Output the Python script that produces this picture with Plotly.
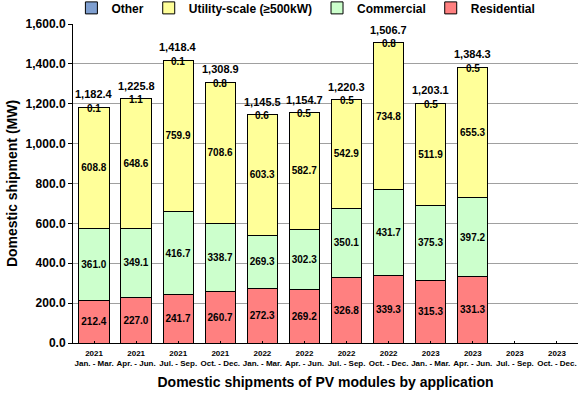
import plotly.graph_objects as go

years = ["2021", "2021", "2021", "2021", "2022", "2022", "2022", "2022", "2023", "2023", "2023", "2023"]
periods = ["Jan. - Mar.", "Apr. - Jun.", "Jul. - Sep.", "Oct. - Dec.",
           "Jan. - Mar.", "Apr. - Jun.", "Jul. - Sep.", "Oct. - Dec.",
           "Jan. - Mar.", "Apr. - Jun.", "Jul. - Sep.", "Oct. - Dec."]
residential = [212.4, 227.0, 241.7, 260.7, 272.3, 269.2, 326.8, 339.3, 315.3, 331.3, None, None]
commercial = [361.0, 349.1, 416.7, 338.7, 269.3, 302.3, 350.1, 431.7, 375.3, 397.2, None, None]
utility = [608.8, 648.6, 759.9, 708.6, 603.3, 582.7, 542.9, 734.8, 511.9, 655.3, None, None]
other = [0.1, 1.1, 0.1, 0.8, 0.6, 0.5, 0.5, 0.8, 0.5, 0.5, None, None]
totals = [1182.4, 1225.8, 1418.4, 1308.9, 1145.5, 1154.7, 1220.3, 1506.7, 1203.1, 1384.3, None, None]

cats = [f"{y}<br>{p}" for y, p in zip(years, periods)]
FONT = "Liberation Sans, Arial, sans-serif"

fig = go.Figure()

def seg(name, vals, color, show_text=True):
    fig.add_trace(go.Bar(
        x=cats, y=vals, name=name,
        marker=dict(color=color, line=dict(color="black", width=1)),
        text=[f"{v:,.1f}" if v is not None else "" for v in vals] if show_text else None,
        textposition="inside" if show_text else "none",
        insidetextanchor="middle",
        constraintext="none",
        textangle=0,
        insidetextfont=dict(family=FONT, size=10, color="black", weight="bold"),
    ))

seg("Residential", residential, "#FF8080")
seg("Commercial", commercial, "#CCFFCC")
seg("Utility-scale (≥500kW)", utility, "#FFFF99")
seg("Other", other, "#7F9FD0", show_text=False)

for c, t, o in zip(cats, totals, other):
    if t is None:
        continue
    fig.add_annotation(x=c, y=t, text=f"{t:,.1f}", showarrow=False, yanchor="bottom", yshift=5,
                       font=dict(family=FONT, size=11, color="black", weight="bold"))
    fig.add_annotation(x=c, y=t, text=f"{o:,.1f}", showarrow=False, yanchor="middle", yshift=-1,
                       font=dict(family=FONT, size=10, color="black", weight="bold"))

fig.update_layout(
    width=586, height=398,
    barmode="stack", bargap=0.28,
    plot_bgcolor="white", paper_bgcolor="white",
    margin=dict(l=73, r=8, t=24, b=55, autoexpand=False),
    font=dict(family=FONT, color="black"),
    legend=dict(orientation="h", traceorder="reversed", xref="container", x=0.522, xanchor="center",
                yref="paper", y=1.096, yanchor="top",
                font=dict(family=FONT, size=12, weight="bold"), itemwidth=30,
                tracegroupgap=0, bgcolor="rgba(0,0,0,0)"),
    showlegend=True,
)
fig.update_yaxes(range=[0, 1600], dtick=200, tickformat=",.1f", showgrid=True, gridcolor="#a0a0a0", gridwidth=1,
                 showline=True, linecolor="black", linewidth=1, ticks="outside", ticklen=4, tickcolor="black",
                 tickfont=dict(family=FONT, size=12, weight="bold"), zeroline=False, automargin=False,
                 title=dict(text="Domestic shipment (MW)", font=dict(family=FONT, size=14, weight="bold"), standoff=4))
fig.update_xaxes(showline=True, linecolor="black", linewidth=1, ticks="inside", ticklen=2, tickcolor="black",
                 tickangle=0, tickfont=dict(family=FONT, size=8, weight="bold"), automargin=False,
                 ticklabelstandoff=2,
                 title=dict(text="Domestic shipments of PV modules by application",
                            font=dict(family=FONT, size=14, weight="bold"), standoff=10))

fig.write_html("out.html", config={"displayModeBar": False},
               post_script="document.body.style.margin='0';")
